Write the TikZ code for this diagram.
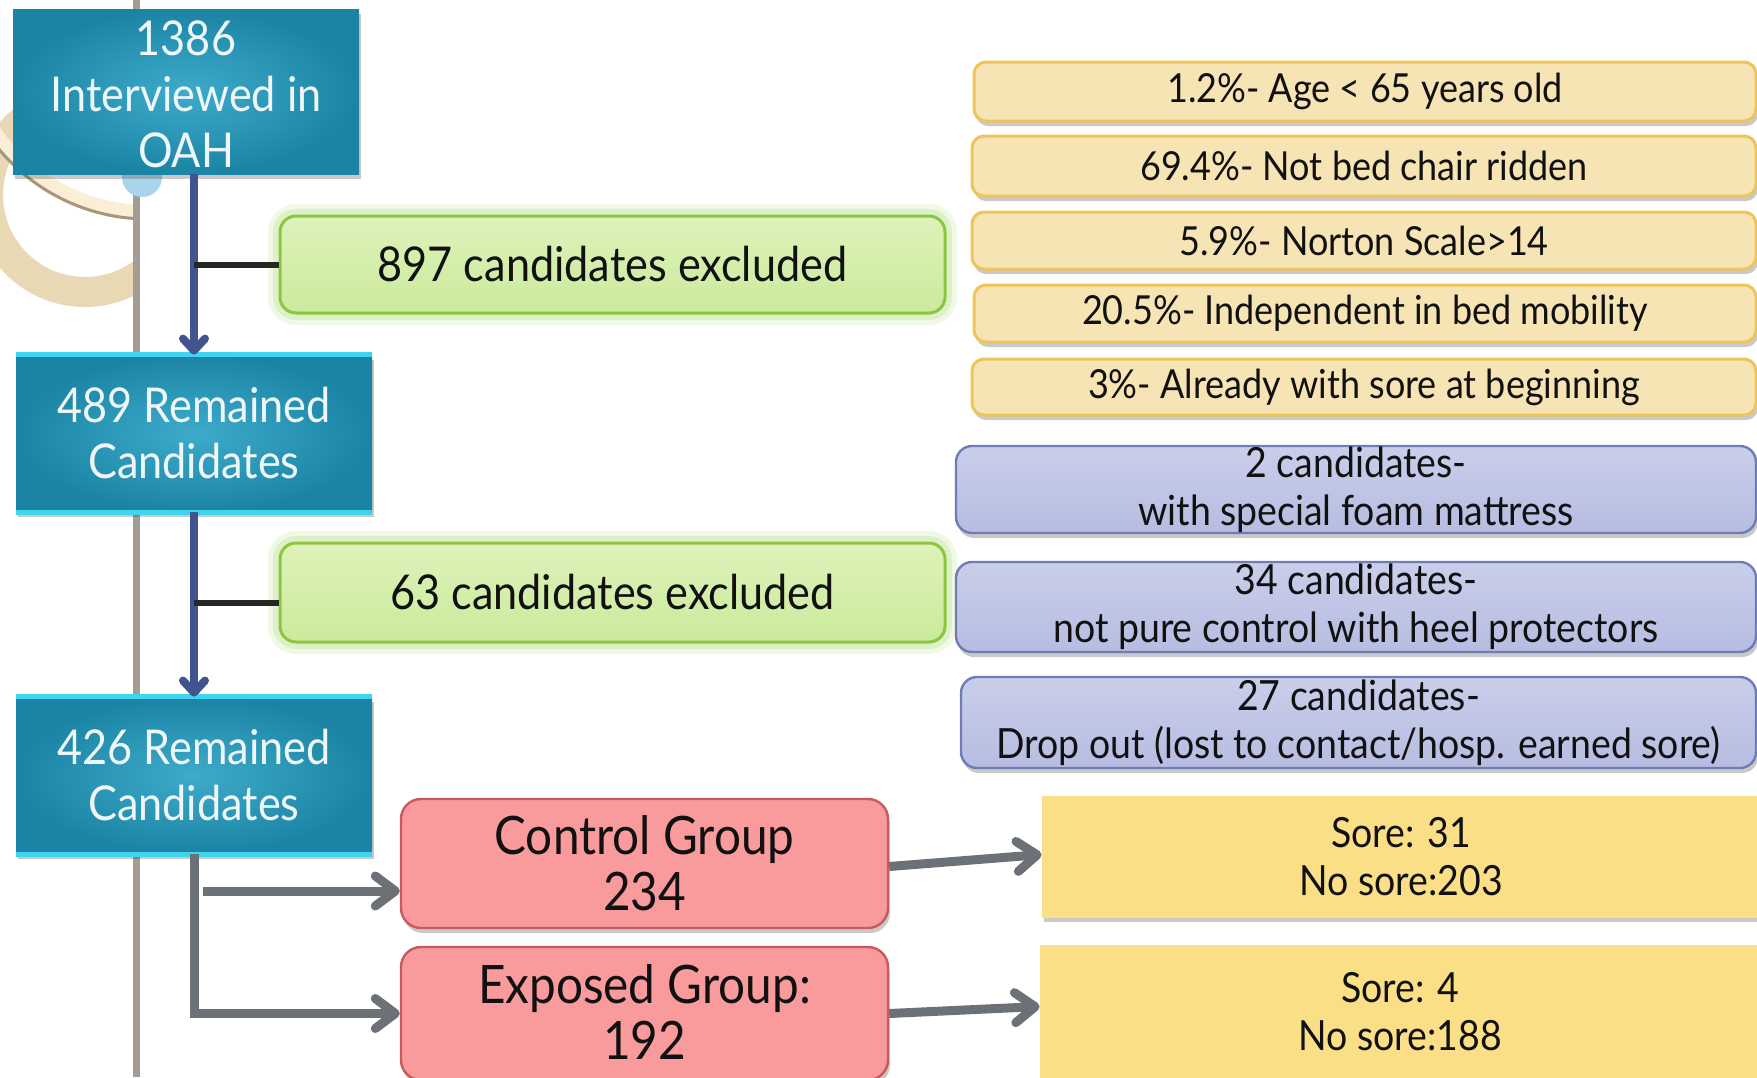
\documentclass[tikz,border=0pt]{standalone}
\usepackage{fontspec}
\setmainfont[FakeStretch=0.9]{Lato}
\usetikzlibrary{arrows.meta,shadows,fit,calc}
\definecolor{tealD}{HTML}{1B84A4}
\definecolor{tealL}{HTML}{3EABCB}
\definecolor{cyanB}{HTML}{3FD5EE}
\definecolor{tealT}{HTML}{EEF6F8}
\definecolor{greenB}{HTML}{8CC53F}
\definecolor{greenT}{HTML}{DDF2BA}
\definecolor{greenF}{HTML}{CBEA9C}
\definecolor{greenG}{HTML}{B5DE80}
\definecolor{tanF}{HTML}{F6E4B5}
\definecolor{tanB}{HTML}{EDC558}
\definecolor{lavF}{HTML}{C9CEEA}
\definecolor{lavF2}{HTML}{B7BDE1}
\definecolor{lavB}{HTML}{6F7CB6}
\definecolor{redD}{HTML}{F99B9D}
\definecolor{redL}{HTML}{FCBEC0}
\definecolor{redB}{HTML}{C85A5F}
\definecolor{yelD}{HTML}{FBDF86}
\definecolor{yelL}{HTML}{FDEDB5}
\definecolor{navy}{HTML}{42548F}
\definecolor{arrowG}{HTML}{6C7177}
\definecolor{vline}{HTML}{A39D94}
\definecolor{ringB}{HTML}{E8D8B4}
\definecolor{ringBr}{HTML}{A8957A}
\definecolor{ringC}{HTML}{FBEED6}
\definecolor{dotB}{HTML}{A9D4EB}
\definecolor{txt}{HTML}{111111}
\begin{document}
\begin{tikzpicture}[x=0.5pt,y=-0.5pt,
  softshadow/.style={drop shadow={shadow xshift=1pt,shadow yshift=-2.5pt,opacity=0.3,fill=black!70}},
  tealbox/.style={inner sep=0pt,inner color=tealL,outer color=tealD,softshadow},
  tealtext/.style={align=center,text=tealT,font=\fontsize{24}{28}\selectfont},
  tealrim/.style={draw=cyanB,line width=2.5pt},
  greenbox/.style={inner sep=0pt,rounded corners=8pt,
    draw=greenB,line width=1.5pt,top color=greenT,bottom color=greenF,
    preaction={draw=greenG,line width=12pt,opacity=0.2,rounded corners=10pt},
    preaction={draw=greenG,line width=7pt,opacity=0.3,rounded corners=9pt}},
  greentext/.style={align=center,text=txt,font=\fontsize{24}{28}\selectfont},
  tanbox/.style={inner sep=0pt,rounded corners=6pt,
    draw=tanB,line width=1.5pt,fill=tanF,softshadow},
  tantext/.style={align=center,text=txt,font=\fontsize{20}{24}\selectfont},
  lavbox/.style={inner sep=0pt,rounded corners=8pt,
    draw=lavB,line width=1.2pt,top color=lavF,bottom color=lavF2,softshadow},
  lavtext/.style={align=center,text=txt,font=\fontsize{20.8}{24}\selectfont},
  redbox/.style={inner sep=0pt,rounded corners=10pt,
    draw=redB,line width=1.2pt,left color=redD,middle color=redL,right color=redD,softshadow},
  redtext/.style={align=center,text=txt,font=\fontsize{26.5}{28}\selectfont},
  yelbox/.style={inner sep=0pt,left color=yelD,middle color=yelL,right color=yelD,softshadow},
  yeltext/.style={align=center,text=txt,font=\fontsize{20.8}{24}\selectfont},
  bluearrow/.style={draw=navy,line width=4pt,-{Straight Barb[length=6pt,width=11pt,round]}},
  branch/.style={draw=black!85,line width=3pt},
  grayarrow/.style={draw=arrowG,line width=4.5pt,-{Straight Barb[length=10pt,width=15pt,round]}}
]
\useasboundingbox (0,0) rectangle (1757,1077);
% background decoration
\begin{scope}
  \clip (0,0) rectangle (134,1077);
  \draw[ringB,line width=15pt] (85,195) circle (97);
  \draw[ringC,line width=7pt] (148,25) circle (187);
  \draw[ringBr,line width=1.5pt] (148,25) circle (194);
\end{scope}
\draw[vline,line width=3.5pt] (136,0) -- (136,1077);
\fill[dotB] (142,177) circle (20);
% left column
\node[tealbox,fit={(13,9) (359,174)}] (b1) {};
\node[tealbox,fit={(16,355) (372,512)}] (b2) {};
\node[tealbox,fit={(16,697) (372,854)}] (b3) {};
\node[tealtext] (b1t) at ($(b1.center)+(0,3)$) {1386\\Interviewed in\\OAH};
\node[tealtext] (b2t) at (b2.center) {489 Remained\\Candidates};
\node[tealtext] (b3t) at (b3.center) {426 Remained\\Candidates};
\draw[tealrim] (b2.north west) -- (b2.north east);
\draw[tealrim] (b2.south west) -- (b2.south east);
\draw[tealrim] (b3.north west) -- (b3.north east);
\draw[tealrim] (b3.south west) -- (b3.south east);
% green
\node[greenbox,fit={(280,216) (945,313)}] (g1) {};
\node[greenbox,fit={(280,543) (945,642)}] (g2) {};
\node[greentext] (g1t) at (g1.center) {897 candidates excluded};
\node[greentext] (g2t) at (g2.center) {63 candidates excluded};
% tan
\node[tanbox,fit={(974,62) (1756,121)}] (t1) {};
\node[tanbox,fit={(972,136) (1756,196)}] (t2) {};
\node[tanbox,fit={(972,212) (1756,269)}] (t3) {};
\node[tanbox,fit={(974,285) (1756,342)}] (t4) {};
\node[tanbox,fit={(972,359) (1756,415)}] (t5) {};
\node[tantext] (t1t) at (t1.center) {1.2\%- Age < 65 years old};
\node[tantext] (t2t) at (t2.center) {69.4\%- Not bed chair ridden};
\node[tantext] (t3t) at (t3.center) {5.9\%- Norton Scale>14};
\node[tantext] (t4t) at (t4.center) {20.5\%- Independent in bed mobility};
\node[tantext] (t5t) at (t5.center) {3\%- Already with sore at beginning};
% lavender
\node[lavbox,fit={(956,446) (1756,533)}] (l1) {};
\node[lavbox,fit={(956,562) (1756,652)}] (l2) {};
\node[lavbox,fit={(961,677) (1756,768)}] (l3) {};
\node[lavtext] (l1t) at (l1.center) {2 candidates-\\with special foam mattress};
\node[lavtext] (l2t) at (l2.center) {34 candidates-\\not pure control with heel protectors};
\node[lavtext] (l3t) at (l3.center) {27 candidates-\\Drop out (lost to contact/hosp. earned sore)};
% red
\node[redbox,fit={(401,799) (888,928)}] (ctrl) {};
\node[redbox,fit={(401,947) (888,1080)}] (exp) {};
\node[redtext] (ctrlt) at (ctrl.center) {Control Group\\234};
\node[redtext] (expt) at ($(exp.center)+(0,-2)$) {Exposed Group:\\192};
% yellow
\node[yelbox,fit={(1042,796) (1760,917)}] (y1) {};
\node[yelbox,fit={(1040,945) (1760,1080)}] (y2) {};
\node[yeltext] (y1t) at (y1.center) {Sore: 31\\No sore:203};
\node[yeltext] (y2t) at ($(y2.center)+(0,-1)$) {Sore: 4\\No sore:188};
% connectors
\draw[bluearrow] (b1.south -| b2.north) -- (b2.north);
\draw[branch] (g1.west -| b2.north) -- (g1.west);
\draw[bluearrow] (b2.south) -- (b3.north);
\coordinate (br2) at ($(g2.west)+(0,10)$);
\draw[branch] (br2 -| b2.south) -- (br2);
\coordinate (gs) at (203,891);
\draw[grayarrow] (gs) -- (gs -| ctrl.west);
\draw[grayarrow] (b3.south) |- (exp.west);
\draw[grayarrow] ($(ctrl.east)+(0,3)$) -- ($(y1.west)+(0,-2)$);
\draw[grayarrow] ($(exp.east)+(0,0)$) -- ($(y2.west)+(0,-6)$);
\end{tikzpicture}
\end{document}
